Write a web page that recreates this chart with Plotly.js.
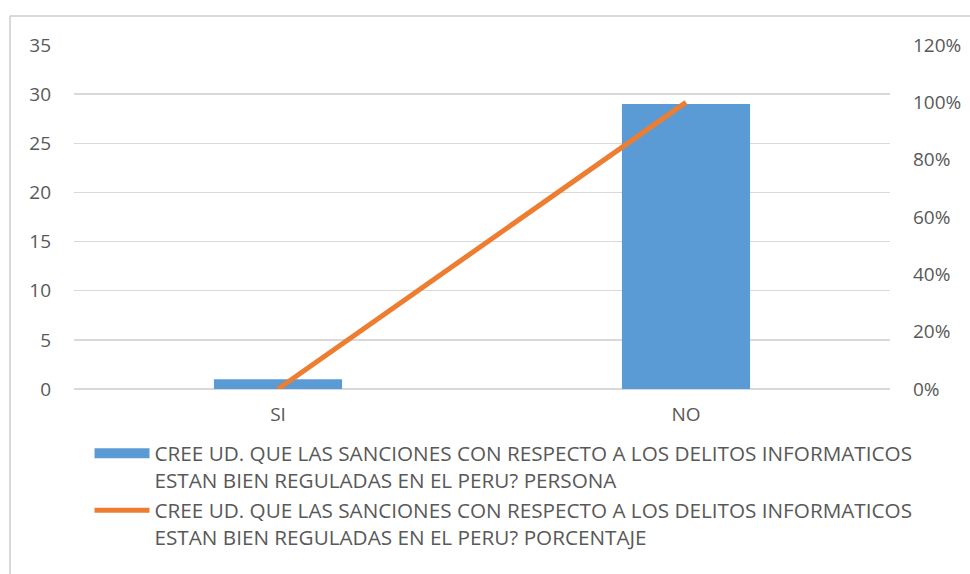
<!DOCTYPE html>
<html>
<head>
<meta charset="utf-8">
<script src="https://cdn.plot.ly/plotly-3.0.1.min.js"></script>
<style>
html,body{margin:0;padding:0;background:#fff;}
#chart{width:970px;height:574px;}
</style>
</head>
<body>
<div id="chart"></div>
<script>
const categories = ["SI", "NO"];
const personas = [1, 29];
const porcentajes = [0, 1.0];
const leftTicks = [0, 5, 10, 15, 20, 25, 30, 35];
const rightTicks = [0, 0.2, 0.4, 0.6, 0.8, 1.0, 1.2];
const seriesNames = [
  "CREE UD. QUE LAS SANCIONES CON RESPECTO A LOS DELITOS INFORMATICOS<br>ESTAN BIEN REGULADAS EN EL PERU? PERSONA",
  "CREE UD. QUE LAS SANCIONES CON RESPECTO A LOS DELITOS INFORMATICOS<br>ESTAN BIEN REGULADAS EN EL PERU? PORCENTAJE"
];

const font = {family: "Open Sans, sans-serif", size: 19, color: "#595959"};
const legendFont = {family: "Open Sans, sans-serif", size: 20.7, color: "#595959"};

const traces = [
  {
    type: "bar", x: categories, y: personas, name: seriesNames[0],
    marker: {color: "#5B9BD5"}, yaxis: "y", showlegend: false, legendgroup: "a"
  },
  {
    // legend entry for the bar series, drawn as a wide block like the reference
    type: "scatter", mode: "lines", x: [null], y: [null], name: seriesNames[0],
    line: {color: "#5B9BD5", width: 14}, yaxis: "y", legendgroup: "a", hoverinfo: "skip"
  },
  {
    type: "scatter", mode: "lines", x: categories, y: porcentajes, name: seriesNames[1],
    line: {color: "#ED7D31", width: 5}, yaxis: "y2", legendgroup: "b"
  }
];

const layout = {
  width: 970, height: 574,
  margin: {l: 74, r: 80, t: 45, b: 185},
  paper_bgcolor: "#fff", plot_bgcolor: "#fff",
  font: font,
  bargap: 0.686,
  showlegend: true,
  xaxis: {
    type: "category", showgrid: false, zeroline: false, showline: false,
    ticks: "", tickfont: font, ticklabelstandoff: 12
  },
  yaxis: {
    range: [0, 35], tickvals: leftTicks, showgrid: true, gridcolor: "#d9d9d9", gridwidth: 1.5,
    zeroline: true, zerolinecolor: "#d9d9d9", zerolinewidth: 1.5, showline: false,
    ticks: "", tickfont: font, ticklabelstandoff: 22
  },
  yaxis2: {
    overlaying: "y", side: "right", range: [0, 1.2], tickvals: rightTicks, tickformat: ".0%",
    showgrid: false, zeroline: false, showline: false, ticks: "", tickfont: font,
    ticklabelstandoff: 22
  },
  legend: {
    orientation: "v", x: 0.019, y: -0.129, xanchor: "left", yanchor: "top",
    font: legendFont, tracegroupgap: 2, itemwidth: 55, traceorder: "normal",
    valign: "top", bgcolor: "rgba(0,0,0,0)"
  },
  shapes: [
    {type: "line", xref: "paper", yref: "paper", x0: -0.0784, x1: -0.0784, y0: 1.0843, y1: -0.6, line: {color: "#d9d9d9", width: 2}},
    {type: "line", xref: "paper", yref: "paper", x0: -0.0784, x1: 1.2, y0: 1.0843, y1: 1.0843, line: {color: "#d9d9d9", width: 2}}
  ]
};

Plotly.newPlot("chart", traces, layout, {displayModeBar: false, staticPlot: true});
</script>
</body>
</html>
